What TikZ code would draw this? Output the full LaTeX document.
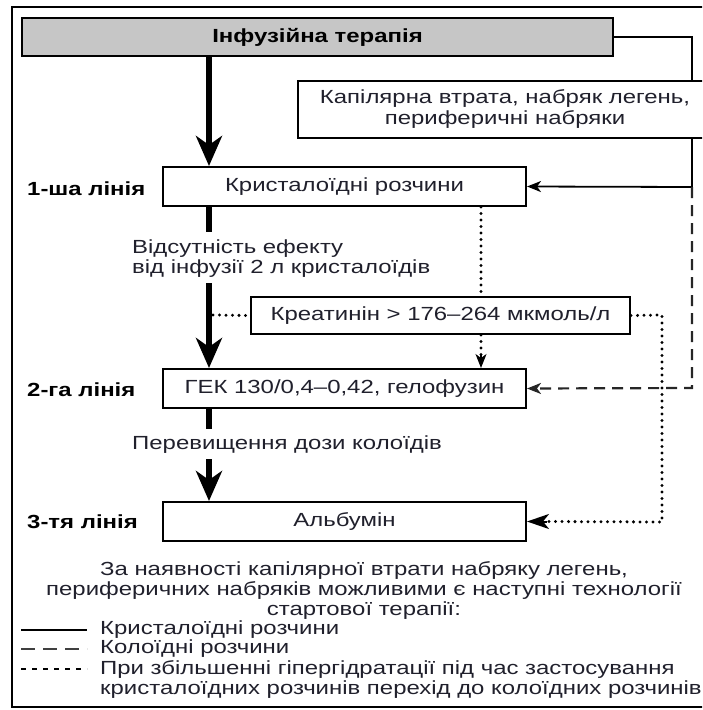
\documentclass[tikz,border=0pt]{standalone}
\usepackage{fontspec}
\setmainfont[FakeStretch=1.26]{Liberation Sans}
\usetikzlibrary{arrows.meta}
\definecolor{txt}{HTML}{20202C}
\definecolor{ttlgray}{HTML}{C6C6C6}
\tikzset{
  box/.style={draw=black, line width=2pt, fill=white, inner sep=0pt, font=\fontsize{19}{20}\selectfont, text=txt},
  lbl/.style={anchor=west, inner sep=0pt, font=\bfseries\fontsize{19}{20}\selectfont, text=black},
  body/.style={inner sep=0pt, font=\fontsize{19}{20}\selectfont, text=txt},
  bigarrow/.style={line width=6pt, -{Stealth[length=30pt,width=26pt,inset=9pt]}},
  bigline/.style={line width=6pt},
  solidcon/.style={line width=1.8pt},
  dashcon/.style={line width=2.2pt, draw=black!85, dash pattern=on 11pt off 7pt},
  dotcon/.style={line width=3.3pt, line cap=round, dash pattern=on 0pt off 6.5pt},
  smalltip/.style={-{Stealth[length=14pt,width=11pt,inset=4pt]}},
}
\begin{document}
\begin{tikzpicture}[x=1pt,y=-1pt]
\useasboundingbox (0,0) rectangle (702,710);
\clip (0,0) rectangle (702,710);
\draw[line width=1.8pt] (12,7) rectangle (720,707);

\node[box, fill=ttlgray, minimum width=591pt, minimum height=38pt, font=\bfseries\fontsize{19}{20}\selectfont, text=black] (title) at (317.5,37) {Інфузійна терапія};
\coordinate (rtop) at (692,37);
\coordinate (rmid) at (692,187);
\coordinate (rlow) at (692,388);
\node[box, minimum width=363pt, minimum height=39pt] (kryst) at (344.5,186.5) {Кристалоїдні розчини};
\node[box, minimum width=379pt, minimum height=37pt] (kreat) at (440.5,315.5) {Креатинін > 176–264 мкмоль/л};
\node[box, minimum width=363pt, minimum height=39pt] (hek) at (344.5,388.5) {ГЕК 130/0,4–0,42, гелофузин};
\node[box, minimum width=363pt, minimum height=39pt] (alb) at (344.5,521.5) {Альбумін};

\draw[solidcon] (title.east) -- (rtop) -- (rmid);
\draw[solidcon, smalltip] (rmid) -- (kryst.east);
\draw[dashcon, smalltip] (rmid) -- (rlow) -- (hek.east);

\node[box, minimum width=414pt, minimum height=57pt, align=center, font=\fontsize{19}{21}\selectfont] (kap) at (505,109.5) {Капілярна втрата, набряк легень,\\периферичні набряки};

\node[lbl] (l1) at (27,189) {1-ша лінія};
\node[lbl] (l2) at (27,390) {2-га лінія};
\node[lbl] (l3) at (27,522) {3-тя лінія};

% main thick arrows
\coordinate (a1) at (209,232);
\coordinate (a2) at (209,283);
\coordinate (a3) at (209,429);
\coordinate (a4) at (209,459);
\coordinate (dotL) at (213,315);
\draw[bigarrow] (title.south -| a1) -- (kryst.north -| a1);
\draw[bigline] (kryst.south -| a1) -- (a1);
\draw[bigarrow] (a2) -- (hek.north -| a2);
\draw[bigline] (hek.south -| a3) -- (a3);
\draw[bigarrow] (a4) -- (alb.north -| a4);

\node[body, anchor=west, align=left] (t1) at (132,259) {Відсутність ефекту\\від інфузії 2 л кристалоїдів};
\node[body, anchor=west] (t2) at (132,445) {Перевищення дози колоїдів};

% dotted connectors
\coordinate (dx) at (481,0);
\coordinate (dR) at (662,315);
\coordinate (dB) at (662,522);
\draw[dotcon] (dotL) -- (kreat.west);
\draw[dotcon] (kryst.south -| dx) -- (kreat.north -| dx);
\draw[dotcon] (kreat.south -| dx) -- ([yshift=12pt]hek.north -| dx);
\draw[line width=1.4pt, smalltip] ([yshift=13pt]hek.north -| dx) -- (hek.north -| dx);
\draw[dotcon] (kreat.east) -- (dR) -- (dB) -- ([xshift=18pt]alb.east);
\draw[line width=2pt, -{Stealth[length=22pt,width=15pt,inset=6pt]}] ([xshift=20pt]alb.east) -- (alb.east);

% bottom text
\node[body, align=center] (note) at (364,590) {За наявності капілярної втрати набряку легень,\\периферичних набряків можливими є наступні технології\\стартової терапії:};
\coordinate (lg1) at (21,630);
\coordinate (lg2) at (21,649);
\coordinate (lg3) at (21,669);
\draw[line width=2pt] (lg1) -- ++(66,0);
\draw[line width=2.5pt, draw=black!75, dash pattern=on 14pt off 8pt] (lg2) -- ++(66,0);
\draw[line width=2pt, dash pattern=on 5pt off 6pt] (lg3) -- ++(66,0);
\node[body, anchor=west] (g1) at (100,630) {Кристалоїдні розчини};
\node[body, anchor=west] (g2) at (100,649) {Колоїдні розчини};
\node[body, align=left, anchor=north west] (g3) at (100,660) {При збільшенні гіпергідратації під час застосування\\кристалоїдних розчинів перехід до колоїдних розчинів};
\end{tikzpicture}
\end{document}
